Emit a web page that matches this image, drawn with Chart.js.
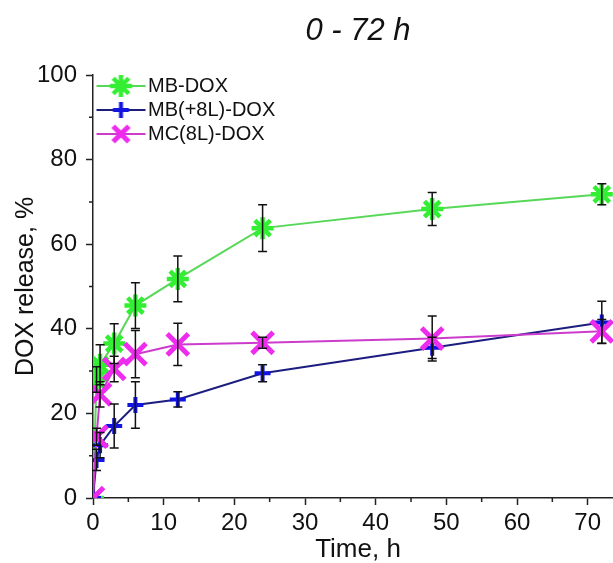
<!DOCTYPE html>
<html>
<head>
<meta charset="utf-8">
<script src="https://cdn.jsdelivr.net/npm/chart.js@4/dist/chart.umd.min.js"></script>
<style>
  html, body { margin: 0; padding: 0; background: #fff; overflow: hidden; }
</style>
</head>
<body>
<canvas id="myChart" width="716" height="563"></canvas>
<script>
// data
const times = [0, 0.5, 1, 3, 6, 12, 24, 48, 72];
const mbDox = [0, 28, 31.5, 36.5, 45.5, 51.8, 63.8, 68.3, 71.8];
const mbDoxErr = [0, 3, 4.7, 4.7, 5.4, 5.4, 5.5, 3.9, 2.5];
const mb8lDox = [0, 9, 12.5, 17, 22, 23.3, 29.5, 35.5, 41.5];
const mb8lDoxErr = [0, 2.5, 3, 5.2, 5.5, 1.8, 2, 2.5, 5];
const mc8lDox = [0, 14.5, 24.5, 30.5, 34, 36.3, 36.7, 37.7, 39.4];
const mc8lDoxErr = [0, 2, 3, 3, 5.6, 5, 1.3, 5.3, 2.8];
const seriesLabels = ["MB-DOX", "MB(+8L)-DOX", "MC(8L)-DOX"];

const FONT = "'Liberation Sans', Arial, sans-serif";
const AXIS = "#222";

// marker drawing shared by legend icons
function strokeMarker(c, style, x, y, r) {
  const angles = style === "star" ? [0, 45, 90, 135] : style === "cross" ? [0, 90] : [45, 135];
  c.beginPath();
  angles.forEach((a) => {
    const rad = (a * Math.PI) / 180;
    const dx = Math.cos(rad) * r, dy = Math.sin(rad) * r;
    c.moveTo(x - dx, y - dy);
    c.lineTo(x + dx, y + dy);
  });
  c.stroke();
}

function legendIcon(lineColor, markColor, style, r, w) {
  const cv = document.createElement("canvas");
  cv.width = 60;
  cv.height = 28;
  const c = cv.getContext("2d");
  c.strokeStyle = lineColor;
  c.lineWidth = 2;
  c.beginPath();
  c.moveTo(9, 14);
  c.lineTo(58, 14);
  c.stroke();
  c.strokeStyle = markColor;
  c.lineWidth = w;
  strokeMarker(c, style, 33.5, 14, r);
  return cv;
}

const styles = [
  { line: "#58d858", mark: "#33ee33", shape: "star", r: 11, w: 4.5 },
  { line: "#1d1d80", mark: "#1414e0", shape: "cross", r: 8, w: 4 },
  { line: "#cc3ccc", mark: "#ee2cee", shape: "crossRot", r: 15, w: 5 },
];
const values = [mbDox, mb8lDox, mc8lDox];
const errors = [mbDoxErr, mb8lDoxErr, mc8lDoxErr];
const legendIcons = styles.map((s) => legendIcon(s.line, s.mark, s.shape, s.shape === "crossRot" ? 11 : s.r, s.w));

const errorBars = {
  id: "errorBars",
  afterDatasetsDraw(chart) {
    const { ctx, scales } = chart;
    ctx.save();
    ctx.strokeStyle = "#111";
    ctx.lineWidth = 1.5;
    values.forEach((vals, d) => {
      vals.forEach((v, i) => {
        const e = errors[d][i];
        if (!e) return;
        const px = scales.x.getPixelForValue(times[i]);
        const top = scales.y.getPixelForValue(v + e);
        const bot = scales.y.getPixelForValue(v - e);
        ctx.beginPath();
        ctx.moveTo(px, top);
        ctx.lineTo(px, bot);
        ctx.moveTo(px - 4.5, top);
        ctx.lineTo(px + 4.5, top);
        ctx.moveTo(px - 4.5, bot);
        ctx.lineTo(px + 4.5, bot);
        ctx.stroke();
      });
    });
    ctx.restore();
  },
};

// short minor ticks (major ones come from the grid), legend moved inside the plot
const axisExtras = {
  id: "axisExtras",
  afterLayout(chart) {
    const lg = chart.legend;
    if (!lg) return;
    const dy = chart.chartArea.top - 3 - lg.top;
    lg.top += dy;
    lg.bottom += dy;
  },
  afterDraw(chart) {
    const { ctx, scales, chartArea } = chart;
    ctx.save();
    ctx.strokeStyle = AXIS;
    ctx.lineWidth = 1.5;
    ctx.beginPath();
    scales.x.ticks.forEach((t) => {
      if (t.value % 10 === 0) return;
      const px = scales.x.getPixelForValue(t.value);
      ctx.moveTo(px, chartArea.bottom);
      ctx.lineTo(px, chartArea.bottom + 4);
    });
    scales.y.ticks.forEach((t) => {
      if (t.value % 20 === 0) return;
      const py = scales.y.getPixelForValue(t.value);
      ctx.moveTo(chartArea.left, py);
      ctx.lineTo(chartArea.left - 4, py);
    });
    ctx.stroke();
    ctx.restore();
  },
};

const datasets = values.map((vals, d) => ({
  label: seriesLabels[d],
  data: times.map((t, i) => ({ x: t, y: vals[i] })),
  borderColor: styles[d].line,
  borderWidth: 2,
  pointStyle: styles[d].shape,
  pointRadius: styles[d].r,
  pointBorderWidth: styles[d].w,
  pointBorderColor: styles[d].mark,
  pointBackgroundColor: styles[d].mark,
  tension: 0,
  clip: 0,
  order: 2 - d,
}));

const ctx = document.getElementById("myChart").getContext("2d");
const chart = new Chart(ctx, {
  type: "line",
  data: { datasets },
  plugins: [errorBars, axisExtras],
  options: {
    responsive: false,
    animation: false,
    devicePixelRatio: 1,
    layout: { padding: 0 },
    plugins: {
      tooltip: { enabled: false },
      title: {
        display: true,
        text: "0 - 72 h",
        color: "#111",
        font: { family: FONT, size: 31, style: "italic", weight: "normal", lineHeight: 1 },
        padding: { top: 16, bottom: 28 },
      },
      legend: {
        position: "chartArea",
        align: "start",
        labels: {
          usePointStyle: true,
          pointStyleWidth: 41,
          padding: 4,
          color: "#111",
          font: { family: FONT, size: 20 },
          generateLabels: (ch) =>
            ch.data.datasets.map((ds, i) => ({
              text: ds.label,
              pointStyle: legendIcons[i],
              datasetIndex: i,
              hidden: false,
              lineWidth: 0,
              fillStyle: "transparent",
              strokeStyle: "transparent",
              fontColor: "#111",
            })),
        },
      },
    },
    scales: {
      x: {
        type: "linear",
        min: 0,
        max: 75,
        afterFit: (s) => { s.height = 65; },
        border: { display: true, color: AXIS, width: 1.5 },
        grid: {
          drawOnChartArea: false,
          tickLength: 7,
          tickWidth: 1.5,
          tickColor: (c) => (c.tick && c.tick.value % 10 === 0 ? AXIS : "transparent"),
        },
        ticks: {
          stepSize: 5,
          autoSkip: false,
          maxRotation: 0,
          padding: 4,
          color: "#111",
          font: { family: FONT, size: 24 },
          callback: (v) => (v % 10 === 0 ? v : ""),
        },
        title: {
          display: true,
          text: "Time, h",
          color: "#111",
          font: { family: FONT, size: 26, lineHeight: 1 },
          padding: { top: 0, bottom: 0 },
        },
      },
      y: {
        min: 0,
        max: 100,
        afterFit: (s) => { s.width = 93; },
        border: { display: true, color: AXIS, width: 1.5 },
        grid: {
          drawOnChartArea: false,
          tickLength: 7,
          tickWidth: 1.5,
          tickColor: (c) => (c.tick && c.tick.value % 20 === 0 ? AXIS : "transparent"),
        },
        ticks: {
          stepSize: 10,
          padding: 9,
          color: "#111",
          font: { family: FONT, size: 24 },
          callback: (v) => (v % 20 === 0 ? v : ""),
        },
        title: {
          display: true,
          text: "DOX release, %",
          color: "#111",
          font: { family: FONT, size: 25, lineHeight: 1 },
          padding: { top: 14, bottom: 0 },
        },
      },
      // empty right-hand box so the plot and the title share one centre
      yRight: {
        position: "right",
        afterFit: (s) => { s.width = 93; },
        border: { display: false },
        grid: { display: false },
        ticks: { display: false },
      },
    },
  },
});
</script>
</body>
</html>
